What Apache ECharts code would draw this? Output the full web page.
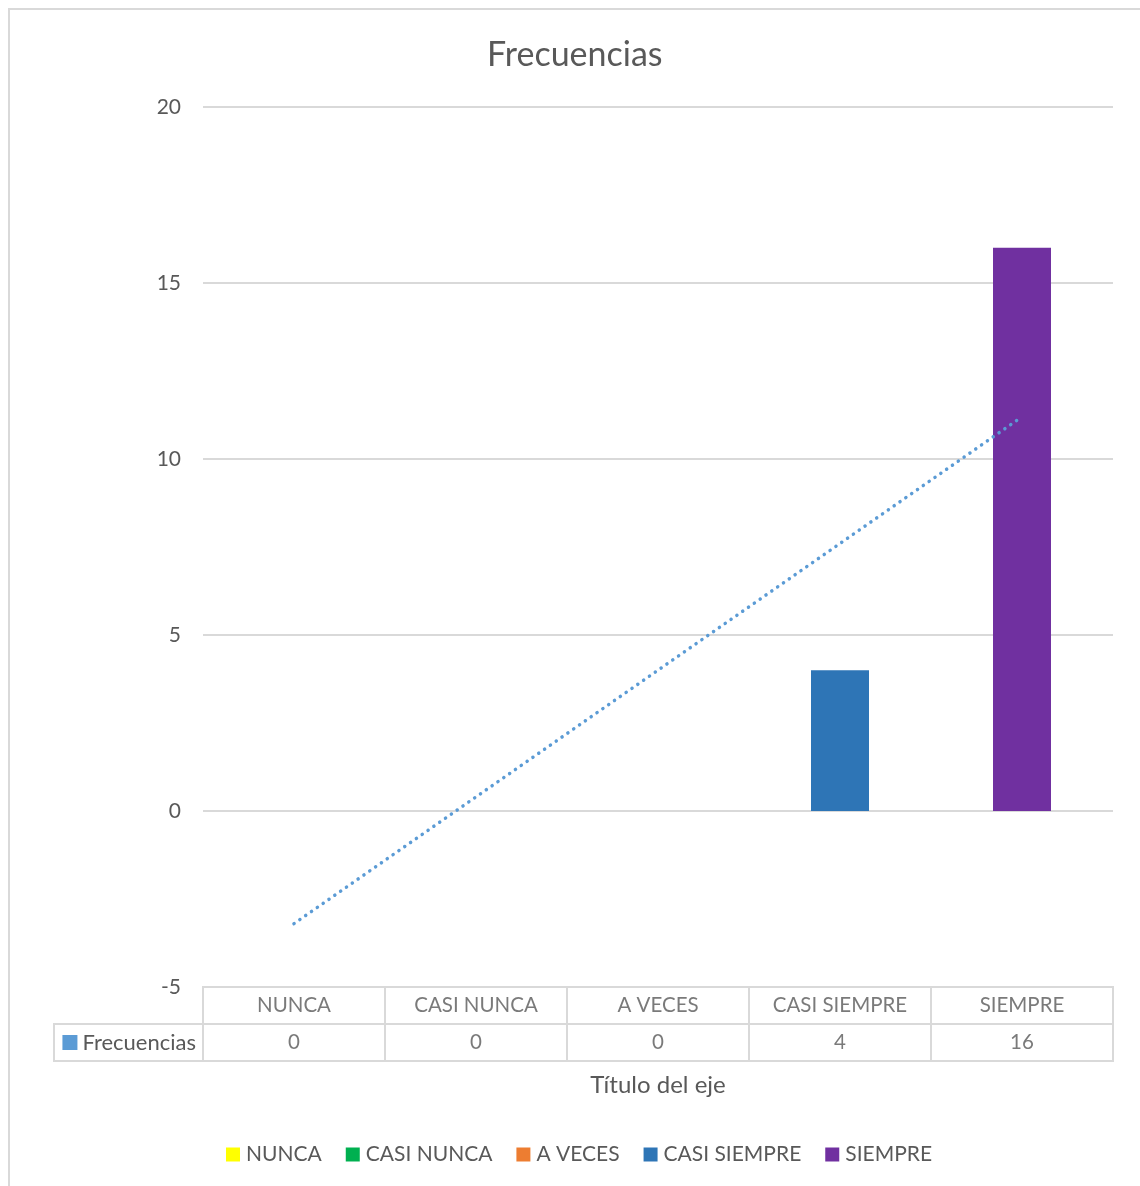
<!DOCTYPE html>
<html>
<head>
<meta charset="utf-8">
<script src="https://cdn.jsdelivr.net/npm/echarts@6/dist/echarts.min.js"></script>
<style>
  html, body { margin: 0; padding: 0; background: #ffffff; }
  #chart { width: 1140px; height: 1186px; }
</style>
</head>
<body>
<div id="chart"></div>
<script>
// Response categories and their counts
const categories = ['NUNCA', 'CASI NUNCA', 'A VECES', 'CASI SIEMPRE', 'SIEMPRE'];
const frequencies = [0, 0, 0, 4, 16];
// Linear trend line values at each category
const trendValues = [-3.2, 0.4, 4.0, 7.6, 11.2];
// Value axis ticks
const yTicks = [-5, 0, 5, 10, 15, 20];
const seriesName = 'Frecuencias';
const colors = ['#FFFF00', '#00B050', '#ED7D31', '#2E75B6', '#7030A0'];

const FONT = 'Lato';
const TEXT = '#595959';
const GRIDC = '#d9d9d9';

const chart = echarts.init(document.getElementById('chart'));

// One bar series per category so each gets its own legend entry
const barSeries = categories.map((c, i) => ({
  name: c,
  type: 'bar',
  stack: 'freq',
  barWidth: 58,
  xAxisIndex: 0,
  yAxisIndex: 0,
  itemStyle: { color: colors[i] },
  data: categories.map((_, j) => (j === i ? frequencies[j] : '-')),
  z: 2
}));

// Data table cells (category header row + value row)
const tableCells = categories.map(c => ({ value: [c, 'cat'], text: c }))
  .concat(categories.map((c, i) => ({ value: [c, 'val'], text: String(frequencies[i]) })));

const option = {
  backgroundColor: '#ffffff',
  animation: false,
  textStyle: { fontFamily: FONT },
  title: {
    text: seriesName,
    left: 482,
    top: 33,
    textStyle: { fontFamily: FONT, fontSize: 34, fontWeight: 'normal', color: TEXT }
  },
  legend: {
    data: categories,
    bottom: 16,
    left: 221,
    icon: 'rect',
    itemWidth: 14,
    itemHeight: 14,
    itemGap: 24,
    textStyle: { fontFamily: FONT, fontSize: 21, color: TEXT, padding: [0, 0, 0, 1] }
  },
  grid: [
    { left: 203, right: 27, top: 107, bottom: 199, containLabel: false },
    { left: 203, right: 27, top: 987, height: 74, show: true, borderColor: GRIDC, borderWidth: 2 }
  ],
  xAxis: [
    {
      type: 'category',
      gridIndex: 0,
      data: categories,
      axisLine: { show: false },
      axisTick: { show: false },
      axisLabel: { show: false },
      name: 'Título del eje',
      nameLocation: 'middle',
      nameGap: 86,
      nameTextStyle: { fontFamily: FONT, fontSize: 24, color: TEXT }
    },
    {
      type: 'category',
      gridIndex: 1,
      data: categories,
      axisLine: { show: false },
      axisTick: { show: false },
      axisLabel: { show: false },
      splitLine: { show: true, lineStyle: { color: GRIDC, width: 2 } }
    }
  ],
  yAxis: [
    {
      type: 'value',
      gridIndex: 0,
      min: yTicks[0],
      max: yTicks[yTicks.length - 1],
      interval: 5,
      axisLine: { show: false },
      axisTick: { show: false },
      axisLabel: { fontFamily: FONT, fontSize: 21, color: TEXT, margin: 22 },
      splitLine: { lineStyle: { color: GRIDC, width: 2 } }
    },
    {
      type: 'category',
      gridIndex: 1,
      inverse: true,
      data: ['cat', 'val'],
      axisLine: { show: false },
      axisTick: { show: false },
      splitLine: { show: true, lineStyle: { color: GRIDC, width: 2 } },
      axisLabel: {
        margin: 7,
        formatter: v => (v === 'val' ? '{sq|}{t|' + seriesName + '}' : ''),
        rich: {
          sq: { width: 15, height: 15, backgroundColor: '#5B9BD5' },
          t: { fontFamily: FONT, fontSize: 22, color: TEXT, padding: [0, 0, 0, 5] }
        }
      }
    }
  ],
  graphic: [
    // outer chart frame
    { type: 'rect', shape: { x: 9, y: 9, width: 1300, height: 1300 }, style: { fill: 'none', stroke: GRIDC, lineWidth: 2 }, silent: true },
    // legend-key box at the left of the value row
    { type: 'polyline', shape: { points: [[203, 1024], [54, 1024], [54, 1061], [203, 1061]] }, style: { fill: 'none', stroke: GRIDC, lineWidth: 2 }, silent: true }
  ],
  series: barSeries.concat([
    {
      name: 'trend',
      type: 'line',
      xAxisIndex: 0,
      yAxisIndex: 0,
      data: trendValues,
      symbol: 'none',
      silent: true,
      z: 10,
      lineStyle: { color: '#5B9BD5', width: 3.5, type: [0.1, 7], cap: 'round' }
    },
    {
      name: 'table',
      type: 'scatter',
      xAxisIndex: 1,
      yAxisIndex: 1,
      symbolSize: 0,
      silent: true,
      data: tableCells,
      label: {
        show: true,
        position: 'inside',
        formatter: p => p.data.text,
        fontFamily: FONT,
        fontSize: 20.5,
        color: TEXT
      }
    }
  ])
};

chart.setOption(option);
</script>
</body>
</html>
